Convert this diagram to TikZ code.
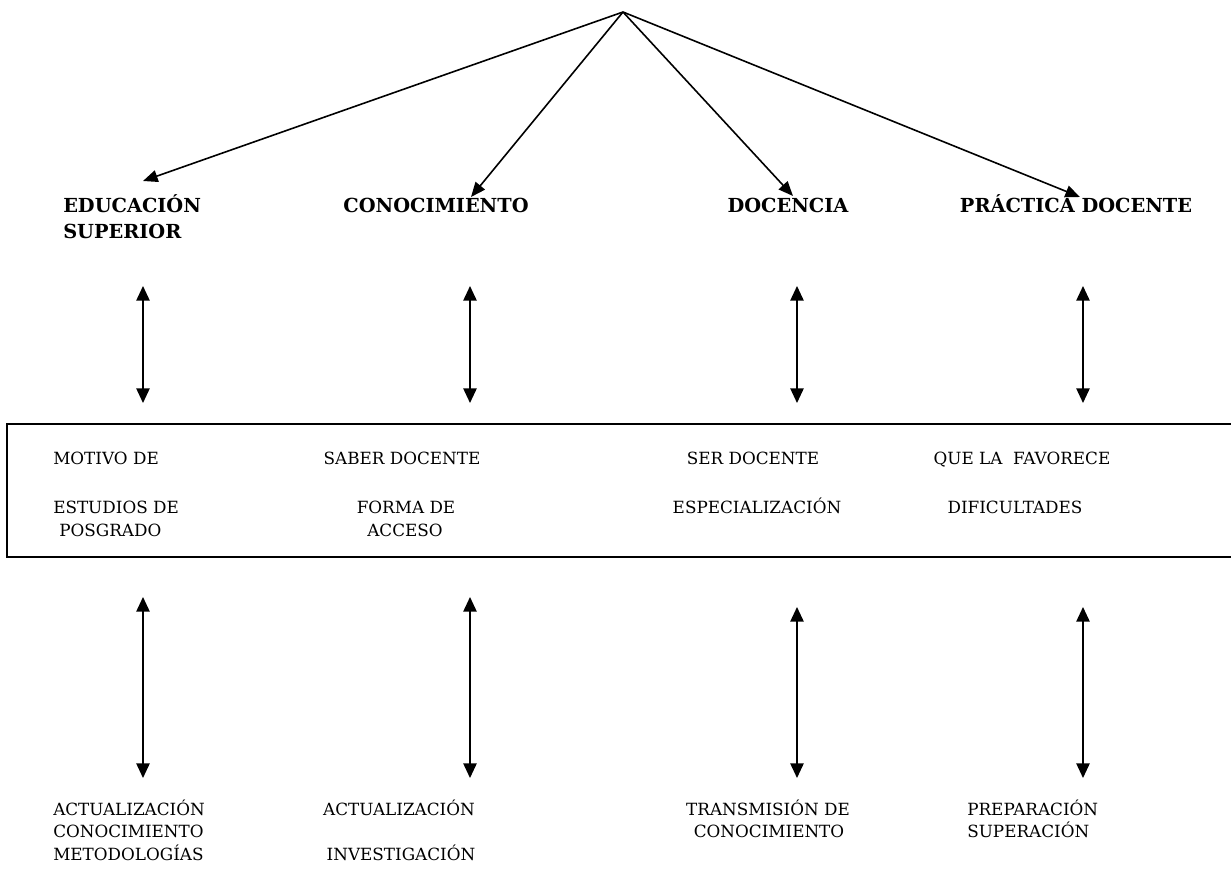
\documentclass[tikz,border=0pt]{standalone}
\usepackage{fontspec}
\setmainfont{DejaVu Serif}
\usetikzlibrary{arrows.meta}
\begin{document}
\begin{tikzpicture}[x=0.75pt,y=-0.75pt,
  lbl/.style={inner sep=0pt,font=\fontsize{12.6}{16}\selectfont},
  bld/.style={inner sep=0pt,font=\fontsize{14.5}{18}\selectfont\bfseries},
  conn/.style={line width=1.2pt,-{Triangle[length=11pt,width=9pt]}},
  dbl/.style={line width=1.2pt,{Triangle[length=11pt,width=10pt]}-{Triangle[length=11pt,width=10pt]}},
  frame/.style={line width=1.5pt}]
\useasboundingbox (0,0) rectangle (1231,870);
\fill[white] (0,0) rectangle (1231,870);

% frame (right edge lies outside the picture)
\begin{scope}
\clip (0,0) rectangle (1231,870);
\draw[frame] (1240,424) -- (7,424) -- (7,557) -- (1240,557);
\end{scope}

% top apex and arrow tips
\coordinate (apex) at (623,12);
\coordinate (tES) at (143,181);
\coordinate (tCO) at (471,197);
\coordinate (tDO) at (793,196);
\coordinate (tPD) at (1080,197);
\draw[conn] (apex) -- (tES);
\draw[conn] (apex) -- (tCO);
\draw[conn] (apex) -- (tDO);
\draw[conn] (apex) -- (tPD);

% bold headings
\node[bld,anchor=base west] (es1) at (63,213) {EDUCACIÓN};
\node[bld,anchor=base west] (es2) at (63,238) {SUPERIOR};
\node[bld,anchor=base] (co) at (436,213) {CONOCIMIENTO};
\node[bld,anchor=base] (do) at (788,213) {DOCENCIA};
\node[bld,anchor=base] (pd) at (1076,213) {PRÁCTICA DOCENTE};

% first row of double arrows
\coordinate (a1t) at (143,286); \coordinate (a1b) at (143,403);
\coordinate (a2t) at (470,286); \coordinate (a2b) at (470,403);
\coordinate (a3t) at (797,286); \coordinate (a3b) at (797,403);
\coordinate (a4t) at (1083,286); \coordinate (a4b) at (1083,403);
\draw[dbl] (a1t) -- (a1b);
\draw[dbl] (a2t) -- (a2b);
\draw[dbl] (a3t) -- (a3b);
\draw[dbl] (a4t) -- (a4b);

% texts in the frame
\node[lbl,anchor=base west] (m1) at (53,464) {MOTIVO DE};
\node[lbl,anchor=base west] (m2) at (53,513) {ESTUDIOS DE};
\node[lbl,anchor=base west] (m3) at (59,536) {POSGRADO};
\node[lbl,anchor=base] (s1) at (402,464) {SABER DOCENTE};
\node[lbl,anchor=base] (s2) at (406,513) {FORMA DE};
\node[lbl,anchor=base] (s3) at (405,536) {ACCESO};
\node[lbl,anchor=base] (r1) at (753,464) {SER DOCENTE};
\node[lbl,anchor=base] (r2) at (757,513) {ESPECIALIZACIÓN};
\node[lbl,anchor=base] (q1) at (1022,464) {QUE LA\ \ FAVORECE};
\node[lbl,anchor=base] (q2) at (1015,513) {DIFICULTADES};

% second row of double arrows
\coordinate (b1t) at (143,597); \coordinate (b1b) at (143,778);
\coordinate (b2t) at (470,597); \coordinate (b2b) at (470,778);
\coordinate (b3t) at (797,607); \coordinate (b3b) at (797,778);
\coordinate (b4t) at (1083,607); \coordinate (b4b) at (1083,778);
\draw[dbl] (b1t) -- (b1b);
\draw[dbl] (b2t) -- (b2b);
\draw[dbl] (b3t) -- (b3b);
\draw[dbl] (b4t) -- (b4b);

% bottom texts
\node[lbl,anchor=base west] (u1) at (53,815) {ACTUALIZACIÓN};
\node[lbl,anchor=base west] (u2) at (53,837) {CONOCIMIENTO};
\node[lbl,anchor=base west] (u3) at (53,860) {METODOLOGÍAS};
\node[lbl,anchor=base] (v1) at (399,815) {ACTUALIZACIÓN};
\node[lbl,anchor=base] (v2) at (401,860) {INVESTIGACIÓN};
\node[lbl,anchor=base] (w1) at (768,815) {TRANSMISIÓN DE};
\node[lbl,anchor=base] (w2) at (769,837) {CONOCIMIENTO};
\node[lbl,anchor=base west] (p1) at (967,815) {PREPARACIÓN};
\node[lbl,anchor=base west] (p2) at (967,837) {SUPERACIÓN};
\end{tikzpicture}
\end{document}
